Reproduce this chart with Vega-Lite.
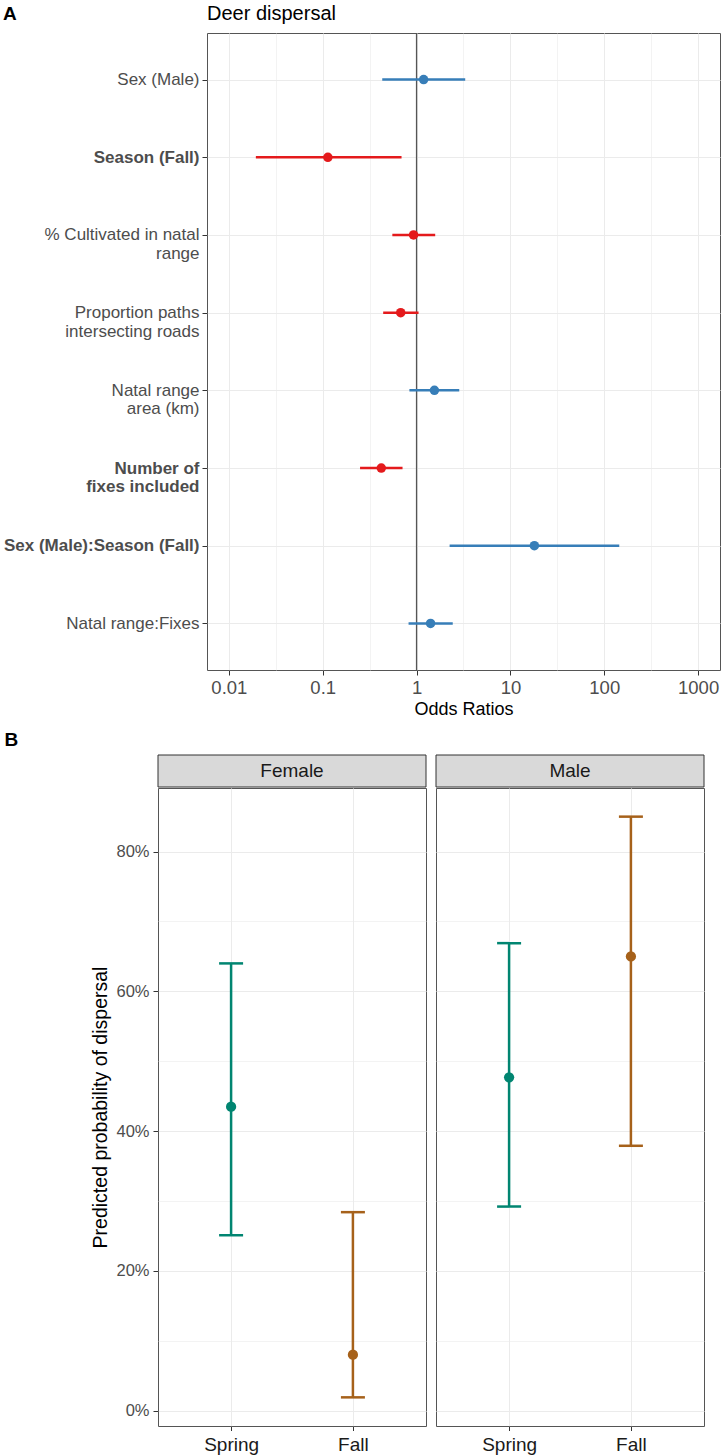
{
  "$schema": "https://vega.github.io/schema/vega-lite/v6.json",
  "padding": {"left": 2, "top": 3, "right": 0, "bottom": 0},
  "background": "white",
  "title": {"text": "A", "fontSize": 19, "fontWeight": "bold", "anchor": "start", "frame": "bounds", "offset": -20, "color": "#000000"},
  "resolve": {"scale": {"color": "independent"}},
  "datasets": {
    "coef": [
      {"term": "Sex (Male)", "estimate": 1.19, "lower": 0.431, "upper": 3.30, "effect": "Positive"},
      {"term": "Season (Fall)", "estimate": 0.1135, "lower": 0.0194, "upper": 0.692, "effect": "Negative"},
      {"term": "% Cultivated in natal range", "estimate": 0.929, "lower": 0.552, "upper": 1.58, "effect": "Negative"},
      {"term": "Proportion paths intersecting roads", "estimate": 0.678, "lower": 0.441, "upper": 1.05, "effect": "Negative"},
      {"term": "Natal range area (km)", "estimate": 1.55, "lower": 0.839, "upper": 2.85, "effect": "Positive"},
      {"term": "Number of fixes included", "estimate": 0.421, "lower": 0.250, "upper": 0.709, "effect": "Negative"},
      {"term": "Sex (Male):Season (Fall)", "estimate": 18.0, "lower": 2.25, "upper": 144.5, "effect": "Positive"},
      {"term": "Natal range:Fixes", "estimate": 1.41, "lower": 0.822, "upper": 2.43, "effect": "Positive"}
    ],
    "pred": [
      {"sex": "Female", "season": "Spring", "prob": 0.435, "lower": 0.251, "upper": 0.640},
      {"sex": "Female", "season": "Fall", "prob": 0.080, "lower": 0.019, "upper": 0.284},
      {"sex": "Male", "season": "Spring", "prob": 0.477, "lower": 0.292, "upper": 0.669},
      {"sex": "Male", "season": "Fall", "prob": 0.650, "lower": 0.379, "upper": 0.850}
    ]
  },
  "spacing": 11,
  "vconcat": [
    {
      "hconcat": [
        {
          "width": 40,
          "height": 1,
          "data": {"values": [{}]},
          "mark": {"type": "text", "text": ""},
          "view": {"stroke": null}
        },
        {
          "width": 513,
          "height": 637,
          "title": {"text": "Deer dispersal", "fontSize": 20, "fontWeight": "normal", "offset": 8, "frame": "group", "anchor": "start", "color": "#000000"},
          "data": {"name": "coef"},
          "layer": [
            {
              "data": {"values": [{"reference": 1}]},
              "mark": {"type": "rule", "color": "#555555", "strokeWidth": 1.3},
              "encoding": {
                "x": {
                  "field": "reference",
                  "type": "quantitative",
                  "scale": {"type": "log", "domain": [0.00585, 1711], "nice": false},
                  "axis": {
                    "title": "Odds Ratios",
                    "values": [0.01, 0.0316228, 0.1, 0.316228, 1, 3.16228, 10, 31.6228, 100, 316.228, 1000],
                    "format": "~g",
                    "labelExpr": "abs(log(datum.value)/LN10 - round(log(datum.value)/LN10)) < 0.1 ? datum.label : ''",
                    "tickOpacity": {"condition": {"test": "abs(log(datum.value)/LN10 - round(log(datum.value)/LN10)) > 0.1", "value": 0}, "value": 1},
                    "gridWidth": {"condition": {"test": "abs(log(datum.value)/LN10 - round(log(datum.value)/LN10)) > 0.1", "value": 0.6}, "value": 1},
                    "grid": true,
                    "labelFontSize": 18.5,
                    "labelPadding": 3,
                    "labelFlush": false,
                    "titleFontSize": 18,
                    "titlePadding": 4
                  }
                }
              }
            },
            {
              "mark": {"type": "rule", "strokeWidth": 2.5},
              "encoding": {
                "x": {"field": "lower", "type": "quantitative"},
                "x2": {"field": "upper"},
                "y": {
                  "field": "term",
                  "type": "nominal",
                  "sort": null,
                  "scale": {"type": "point", "padding": 0.6},
                  "axis": {
                    "title": null,
                    "grid": true,
                    "labelFontSize": 17,
                    "labelLineHeight": 18.5,
                    "labelLimit": 400,
                    "labelPadding": 3,
                    "labelExpr": "datum.value == '% Cultivated in natal range' ? ['% Cultivated in natal', 'range'] : datum.value == 'Proportion paths intersecting roads' ? ['Proportion paths', 'intersecting roads'] : datum.value == 'Natal range area (km)' ? ['Natal range ', 'area (km)'] : datum.value == 'Number of fixes included' ? ['Number of ', 'fixes included'] : datum.value",
                    "labelFontWeight": {"condition": {"test": "indexof(['Season (Fall)', 'Number of fixes included', 'Sex (Male):Season (Fall)'], datum.value) >= 0", "value": "bold"}, "value": "normal"}
                  }
                },
                "color": {"field": "effect", "type": "nominal", "scale": {"domain": ["Positive", "Negative"], "range": ["#377EB8", "#E41A1C"]}, "legend": null}
              }
            },
            {
              "mark": {"type": "point", "filled": true, "size": 90, "opacity": 1},
              "encoding": {
                "x": {"field": "estimate", "type": "quantitative"},
                "y": {"field": "term", "type": "nominal", "sort": null},
                "color": {"field": "effect", "type": "nominal", "legend": null}
              }
            }
          ]
        }
      ],
      "spacing": 9,
      "bounds": "flush"
    },
    {
      "title": {"text": "B", "fontSize": 19, "fontWeight": "bold", "anchor": "start", "frame": "bounds", "dx": -86, "offset": 5, "color": "#000000"},
      "spacing": 8,
      "hconcat": [
        {
          "spacing": -3,
          "vconcat": [
            {
              "width": 268,
              "height": 32,
              "data": {"values": [{"sex": "Female"}]},
              "view": {"stroke": null},
              "encoding": {
                "x": {"field": "sex", "type": "nominal", "axis": null, "scale": {"paddingInner": 0, "paddingOuter": 0}}
              },
              "layer": [
                {"mark": {"type": "rect", "fill": "#D9D9D9", "stroke": "#333333", "strokeWidth": 1}},
                {"mark": {"type": "text", "fontSize": 19, "color": "#1A1A1A"}, "encoding": {"text": {"field": "sex"}}}
              ]
            },
            {
              "width": 268,
              "height": 638,
              "data": {"name": "pred"},
              "transform": [{"filter": "datum.sex == 'Female'"}],
              "encoding": {
                "x": {
                  "field": "season",
                  "type": "nominal",
                  "sort": ["Spring", "Fall"],
                  "scale": {"type": "point", "padding": 0.6},
                  "axis": {"title": null, "labelAngle": 0, "labelFontSize": 19, "labelColor": "#1A1A1A", "labelPadding": 5, "grid": true, "tickSize": 4.5}
                },
                "color": {"field": "season", "type": "nominal", "scale": {"domain": ["Spring", "Fall"], "range": ["#018571", "#A6611A"]}, "legend": null}
              },
              "layer": [
                {
                  "mark": {"type": "rule", "strokeWidth": 2.5},
                  "encoding": {
                    "y": {
                      "field": "lower",
                      "type": "quantitative",
                      "scale": {"domain": [-0.022, 0.891], "nice": false, "zero": false},
                      "axis": {
                        "title": "Predicted probability of dispersal",
                        "titleFontSize": 19.5,
                        "titlePadding": 5,
                        "values": [0, 0.1, 0.2, 0.3, 0.4, 0.5, 0.6, 0.7, 0.8],
                        "format": ".0%",
                        "labelExpr": "round(datum.value*10) % 2 == 0 ? datum.label : ''",
                        "tickOpacity": {"condition": {"test": "round(datum.value*10) % 2 == 1", "value": 0}, "value": 1},
                        "gridWidth": {"condition": {"test": "round(datum.value*10) % 2 == 1", "value": 0.6}, "value": 1},
                        "labelFontSize": 16.5,
                        "labelPadding": 4,
                        "grid": true
                      }
                    },
                    "y2": {"field": "upper"}
                  }
                },
                {
                  "mark": {"type": "tick", "thickness": 2.5, "size": 24, "opacity": 1},
                  "encoding": {"y": {"field": "lower", "type": "quantitative"}}
                },
                {
                  "mark": {"type": "tick", "thickness": 2.5, "size": 24, "opacity": 1},
                  "encoding": {"y": {"field": "upper", "type": "quantitative"}}
                },
                {
                  "mark": {"type": "point", "filled": true, "size": 105, "opacity": 1},
                  "encoding": {"y": {"field": "prob", "type": "quantitative"}}
                }
              ]
            }
          ]
        },
        {
          "spacing": -3,
          "vconcat": [
            {
              "width": 268,
              "height": 32,
              "data": {"values": [{"sex": "Male"}]},
              "view": {"stroke": null},
              "encoding": {
                "x": {"field": "sex", "type": "nominal", "axis": null, "scale": {"paddingInner": 0, "paddingOuter": 0}}
              },
              "layer": [
                {"mark": {"type": "rect", "fill": "#D9D9D9", "stroke": "#333333", "strokeWidth": 1}},
                {"mark": {"type": "text", "fontSize": 19, "color": "#1A1A1A"}, "encoding": {"text": {"field": "sex"}}}
              ]
            },
            {
              "width": 268,
              "height": 638,
              "data": {"name": "pred"},
              "transform": [{"filter": "datum.sex == 'Male'"}],
              "encoding": {
                "x": {
                  "field": "season",
                  "type": "nominal",
                  "sort": ["Spring", "Fall"],
                  "scale": {"type": "point", "padding": 0.6},
                  "axis": {"title": null, "labelAngle": 0, "labelFontSize": 19, "labelColor": "#1A1A1A", "labelPadding": 5, "grid": true, "tickSize": 4.5}
                },
                "color": {"field": "season", "type": "nominal", "scale": {"domain": ["Spring", "Fall"], "range": ["#018571", "#A6611A"]}, "legend": null}
              },
              "layer": [
                {
                  "mark": {"type": "rule", "strokeWidth": 2.5},
                  "encoding": {
                    "y": {
                      "field": "lower",
                      "type": "quantitative",
                      "scale": {"domain": [-0.022, 0.891], "nice": false, "zero": false},
                      "axis": {
                        "title": null,
                        "labels": false,
                        "ticks": false,
                        "values": [0, 0.1, 0.2, 0.3, 0.4, 0.5, 0.6, 0.7, 0.8],
                        "gridWidth": {"condition": {"test": "round(datum.value*10) % 2 == 1", "value": 0.6}, "value": 1},
                        "grid": true
                      }
                    },
                    "y2": {"field": "upper"}
                  }
                },
                {
                  "mark": {"type": "tick", "thickness": 2.5, "size": 24, "opacity": 1},
                  "encoding": {"y": {"field": "lower", "type": "quantitative"}}
                },
                {
                  "mark": {"type": "tick", "thickness": 2.5, "size": 24, "opacity": 1},
                  "encoding": {"y": {"field": "upper", "type": "quantitative"}}
                },
                {
                  "mark": {"type": "point", "filled": true, "size": 105, "opacity": 1},
                  "encoding": {"y": {"field": "prob", "type": "quantitative"}}
                }
              ]
            }
          ]
        }
      ]
    }
  ],
  "config": {
    "font": "Liberation Sans",
    "view": {"stroke": "#555555", "strokeWidth": 1},
    "axis": {"domain": false, "gridColor": "#EBEBEB", "gridWidth": 1, "tickColor": "#333333", "tickSize": 5, "labelColor": "#4D4D4D", "titleColor": "#000000", "titleFontWeight": "normal"},
    "title": {"color": "#000000"}
  }
}
